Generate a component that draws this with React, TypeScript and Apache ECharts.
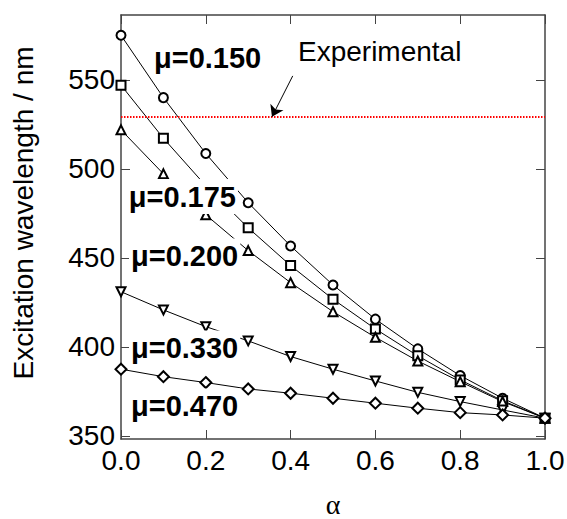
import React, { useEffect, useRef } from 'react';
import * as echarts from 'echarts';

const alpha = [0.0, 0.1, 0.2, 0.3, 0.4, 0.5, 0.6, 0.7, 0.8, 0.9, 1.0];
const mu150 = [575, 540, 508.6, 481, 456.7, 434.8, 415.6, 398.9, 383.9, 371.2, 360];
const mu175 = [547, 517.2, 490.5, 466.9, 445.7, 426.8, 410.1, 395, 381.5, 369.8, 360];
const mu200 = [521.9, 497.2, 474.2, 454.1, 436.1, 419.8, 405.4, 392.1, 380.5, 369.3, 360];
const mu330 = [431, 420.8, 411.4, 403.4, 394.6, 387.5, 380.9, 374.5, 369.3, 364.6, 360];
const mu470 = [387.5, 383.3, 380, 376.4, 374, 371.2, 368.4, 365.6, 363.1, 361.8, 360];
const experimental = 529.2;
const arrowFrom = [0.405, 552.2];
const yTicks = [350, 400, 450, 500, 550];
const muLabels = ['μ=0.150', 'μ=0.175', 'μ=0.200', 'μ=0.330', 'μ=0.470'];

const FONT = '"Liberation Sans", Arial, sans-serif';
const AXIS_COLOR = '#444';

function pts(ys: number[]) {
  return alpha.map((a, i) => [a, ys[i]]);
}

function curve(name: string, ys: number[], symbol: string, size: number, rotate = 0) {
  return {
    name,
    type: 'line',
    data: pts(ys),
    symbol,
    symbolSize: size,
    symbolRotate: rotate,
    showAllSymbol: true,
    lineStyle: { color: '#000', width: 1 },
    itemStyle: { color: '#000', borderColor: '#000', borderWidth: 1 },
    silent: true,
    z: 3,
  };
}

function muText(text: string, x: number, y: number) {
  return {
    type: 'text',
    x,
    y,
    z: 100,
    style: {
      text,
      font: `bold 29px ${FONT}`,
      fill: '#000',
      align: 'left',
      verticalAlign: 'middle',
      textAlign: 'left',
      textVerticalAlign: 'middle',
      backgroundColor: '#fff',
      padding: [3, 2],
    },
  };
}

export default function App() {
  const ref = useRef<HTMLDivElement>(null);
  useEffect(() => {
    if (!ref.current) return;
    const chart = echarts.init(ref.current, null, { renderer: 'svg' });
    const axisCommon = {
      axisLine: { show: true, onZero: false, lineStyle: { color: AXIS_COLOR, width: 1.5 } },
      splitLine: { show: false },
    };
    const base = curve(muLabels[0], mu150, 'emptyCircle', 9) as any;
    base.markLine = {
      silent: true,
      animation: false,
      symbol: 'none',
      label: { show: false },
      data: [
        {
          yAxis: experimental,
          lineStyle: { color: '#ff0000', width: 2, type: [1.5, 1.5] },
        },
        [
          {
            coord: arrowFrom,
            symbol: 'none',
            lineStyle: { color: '#000', width: 1, type: 'solid' },
          },
          {
            coord: [0.356, experimental],
            symbol: 'arrow',
            symbolSize: 11,
          },
        ],
      ],
    };
    chart.setOption({
      animation: false,
      backgroundColor: '#fff',
      grid: { left: 121, right: 22, top: 15, bottom: 80, containLabel: false, outerBoundsMode: 'none' },
      xAxis: [
        {
          type: 'value',
          min: 0,
          max: 1,
          interval: 0.2,
          position: 'bottom',
          ...axisCommon,
          axisTick: { show: true, inside: true, length: 9, lineStyle: { color: AXIS_COLOR, width: 1 } },
          axisLabel: {
            fontSize: 28,
            fontFamily: FONT,
            color: '#000',
            margin: 7,
            formatter: (v: number) => v.toFixed(1),
          },
        },
        {
          type: 'value',
          min: 0,
          max: 1,
          interval: 0.2,
          position: 'top',
          ...axisCommon,
          axisTick: { show: true, inside: true, length: 9, lineStyle: { color: AXIS_COLOR, width: 1 } },
          axisLabel: { show: false },
        },
      ],
      yAxis: [
        {
          type: 'value',
          min: 348.3,
          max: 586.4,
          position: 'left',
          ...axisCommon,
          axisTick: {
            show: true,
            inside: true,
            length: 9,
            customValues: yTicks,
            lineStyle: { color: AXIS_COLOR, width: 1 },
          },
          axisLabel: {
            customValues: yTicks,
            fontSize: 28,
            fontFamily: FONT,
            color: '#000',
            margin: 6,
          },
        },
        {
          type: 'value',
          min: 348.3,
          max: 586.4,
          position: 'right',
          ...axisCommon,
          axisTick: {
            show: true,
            inside: true,
            length: 9,
            customValues: yTicks,
            lineStyle: { color: AXIS_COLOR, width: 1 },
          },
          axisLabel: { show: false },
        },
      ],
      series: [
        base,
        curve(muLabels[1], mu175, 'emptyRect', 9),
        curve(muLabels[2], mu200, 'emptyTriangle', 9),
        curve(muLabels[3], mu330, 'emptyTriangle', 9, 180),
        curve(muLabels[4], mu470, 'emptyDiamond', 11),
      ],
      graphic: [
        muText(muLabels[0], 152, 57.5),
        muText(muLabels[1], 126.7, 196.5),
        muText(muLabels[2], 129, 256),
        muText(muLabels[3], 129, 348),
        muText(muLabels[4], 129, 406),
        {
          type: 'text',
          x: 298,
          y: 51,
          z: 100,
          style: {
            text: 'Experimental',
            font: `28px ${FONT}`,
            fill: '#000',
            align: 'left',
            verticalAlign: 'middle',
            textAlign: 'left',
            textVerticalAlign: 'middle',
          },
        },
        {
          type: 'text',
          x: 333,
          y: 504,
          z: 100,
          style: {
            text: 'α',
            font: '28px "Liberation Serif", "DejaVu Serif", serif',
            fill: '#000',
            align: 'center',
            verticalAlign: 'middle',
            textAlign: 'center',
            textVerticalAlign: 'middle',
          },
        },
        {
          type: 'text',
          x: 23,
          y: 213,
          rotation: Math.PI / 2,
          z: 100,
          style: {
            text: 'Excitation wavelength / nm',
            font: `28px ${FONT}`,
            fill: '#000',
            align: 'center',
            verticalAlign: 'middle',
            textAlign: 'center',
            textVerticalAlign: 'middle',
          },
        },
      ],
    });
    return () => chart.dispose();
  }, []);
  return (
    <div
      ref={ref}
      style={{ position: 'absolute', left: 0, top: 0, width: 567, height: 519 }}
    />
  );
}
